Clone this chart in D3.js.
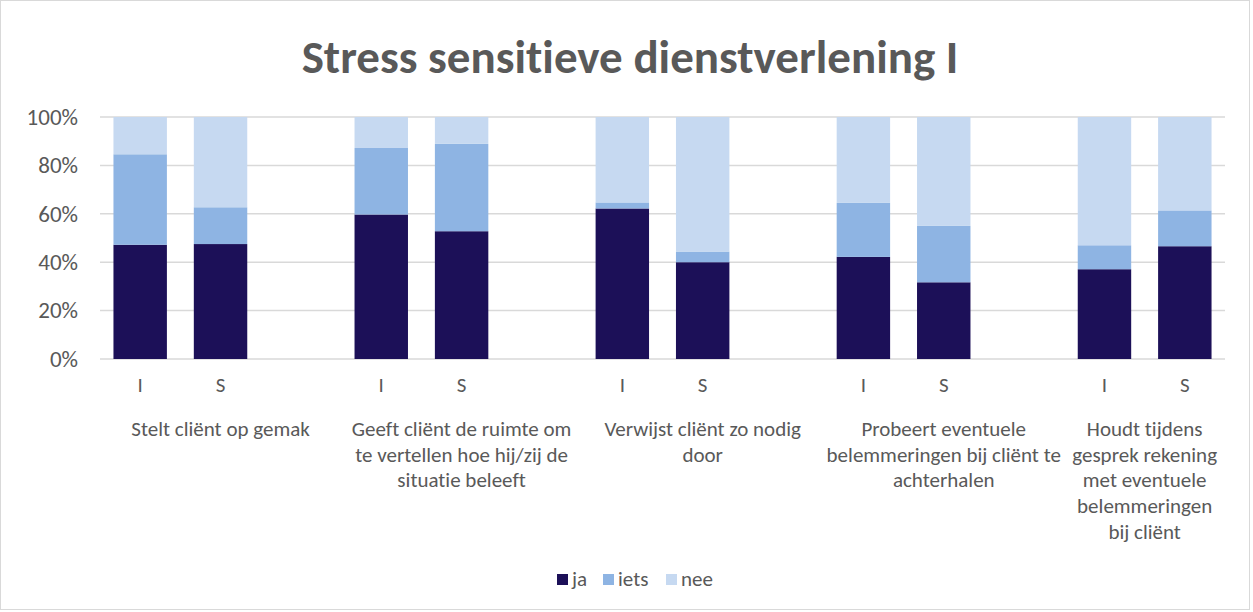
<!DOCTYPE html>
<html>
<head>
<meta charset="utf-8">
<script src="https://cdn.jsdelivr.net/npm/d3@7"></script>
<style>
  html, body { margin: 0; padding: 0; background: #ffffff; }
  svg { display: block; font-family: Carlito, Lato, "Open Sans", sans-serif; font-variant-ligatures: none; }
</style>
</head>
<body>
<svg id="chart" width="1253" height="612"></svg>
<script>
// Survey answers per statement, for I and S respondents (percent of total)
const groupLabels = [
  ["Stelt cliënt op gemak"],
  ["Geeft cliënt de ruimte om", "te vertellen hoe hij/zij de", "situatie beleeft"],
  ["Verwijst cliënt zo nodig", "door"],
  ["Probeert eventuele", "belemmeringen bij cliënt te", "achterhalen"],
  ["Houdt tijdens", "gesprek rekening", "met eventuele", "belemmeringen", "bij cliënt"]
];
const subLabels = ["I", "S"];
const seriesNames = ["ja", "iets", "nee"];
const ja   = [47.2, 47.5, 59.7, 52.8, 62.2, 40.0, 42.2, 31.7, 37.1, 46.6];
const iets = [37.4, 15.2, 27.5, 36.1,  2.5,  4.4, 22.3, 23.3,  9.9, 14.8];
const nee  = [15.4, 37.3, 12.8, 11.1, 35.3, 55.6, 35.5, 45.0, 53.0, 38.6];
const yTicks = [0, 20, 40, 60, 80, 100];
const colors = ["#1c1058", "#8eb4e3", "#c6d9f1"];

const title = "Stress sensitieve dienstverlening I";
const textColor = "#595959";
const fontStack = "Carlito, Lato, 'Open Sans', sans-serif";

const svg = d3.select("#chart");
const plot = { left: 100, right: 1225, top: 117, bottom: 359 };

// chart frame
svg.append("rect")
  .attr("x", 0.5).attr("y", 0.5)
  .attr("width", 1249).attr("height", 609)
  .attr("fill", "#ffffff").attr("stroke", "#d9d9d9");

// Slots: each statement gets I, S and a spacer slot (except the last)
const slots = [];
groupLabels.forEach((g, gi) => {
  subLabels.forEach((s, si) => slots.push({ key: gi + "-" + s, group: gi, sub: s, idx: gi * 2 + si }));
  if (gi < groupLabels.length - 1) slots.push({ key: gi + "-gap", group: gi, sub: null });
});

const x = d3.scaleBand()
  .domain(slots.map(d => d.key))
  .range([plot.left, plot.right])
  .paddingInner(0.335)
  .paddingOuter(0.335 / 2);

const y = d3.scaleLinear().domain([0, 100]).range([plot.bottom, plot.top]);

// gridlines
svg.append("g")
  .selectAll("line")
  .data(yTicks)
  .join("line")
  .attr("x1", plot.left).attr("x2", plot.right)
  .attr("y1", d => y(d)).attr("y2", d => y(d))
  .attr("stroke", "#d9d9d9").attr("stroke-width", 1.5);

// y axis labels
const yAxis = d3.axisLeft(y).tickValues(yTicks).tickFormat(d => d + "%").tickSize(0).tickPadding(0);
const yg = svg.append("g").attr("transform", `translate(78,0)`).call(yAxis)
  .attr("font-family", fontStack).attr("font-size", 23);
yg.select(".domain").remove();
yg.selectAll("text").attr("fill", textColor);

// stacked bars
const rows = slots.filter(d => d.sub !== null).map(d => ({
  key: d.key, ja: ja[d.idx], iets: iets[d.idx], nee: nee[d.idx]
}));
const stack = d3.stack().keys(seriesNames)(rows);

svg.append("g")
  .selectAll("g")
  .data(stack)
  .join("g")
  .attr("fill", (d, i) => colors[i])
  .selectAll("rect")
  .data(d => d)
  .join("rect")
  .attr("x", d => x(d.data.key))
  .attr("width", x.bandwidth())
  .attr("y", d => y(d[1]))
  .attr("height", d => y(d[0]) - y(d[1]));

// I / S labels
svg.append("g")
  .selectAll("text")
  .data(slots.filter(d => d.sub !== null))
  .join("text")
  .attr("x", d => x(d.key) + x.bandwidth() / 2)
  .attr("y", 392)
  .attr("text-anchor", "middle")
  .attr("fill", textColor)
  .attr("font-size", 21)
  .text(d => d.sub);

// statement labels, centred under their slot span
const step = x.step();
const groupCenters = groupLabels.map((g, gi) => {
  const own = slots.filter(d => d.group === gi);
  const x0 = x(own[0].key) - x.paddingInner() * step / 2;
  const x1 = x(own[own.length - 1].key) + x.bandwidth() + x.paddingInner() * step / 2;
  return (x0 + x1) / 2;
});

const gl = svg.append("g")
  .selectAll("text")
  .data(groupLabels)
  .join("text")
  .attr("x", (d, i) => groupCenters[i])
  .attr("y", 436)
  .attr("text-anchor", "middle")
  .attr("fill", textColor)
  .attr("font-size", 21);
gl.selectAll("tspan")
  .data((d, i) => d.map(line => ({ line, cx: groupCenters[i] })))
  .join("tspan")
  .attr("x", d => d.cx)
  .attr("dy", (d, i) => i === 0 ? 0 : 25.7)
  .text(d => d.line);

// title
svg.append("text")
  .attr("x", 630).attr("y", 73)
  .attr("text-anchor", "middle")
  .attr("fill", textColor)
  .attr("font-size", 47)
  .attr("font-weight", "bold")
  .text(title);

// legend
const legendX = [557, 603, 666];
const lg = svg.append("g")
  .selectAll("g")
  .data(seriesNames)
  .join("g")
  .attr("transform", (d, i) => `translate(${legendX[i]},574)`);
lg.append("rect").attr("width", 11).attr("height", 11).attr("fill", (d, i) => colors[i]);
lg.append("text")
  .attr("x", 15).attr("y", 12)
  .attr("fill", textColor)
  .attr("font-size", 21)
  .text(d => d);
</script>
</body>
</html>
